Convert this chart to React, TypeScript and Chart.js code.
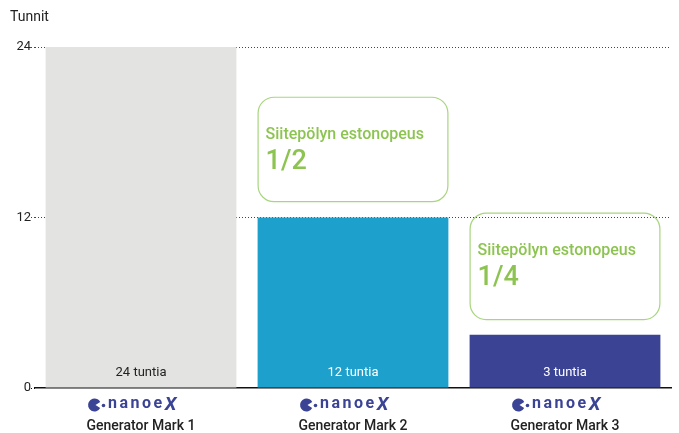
import React, { useEffect, useRef } from "react";
import { Chart, registerables } from "chart.js";

Chart.register(...registerables);

const categories = ["Generator Mark 1", "Generator Mark 2", "Generator Mark 3"];
const hours = [24, 12, 3.75];
const barLabels = ["24 tuntia", "12 tuntia", "3 tuntia"];
const yTicks = [0, 12, 24];
const calloutTitles = ["", "Siitepölyn estonopeus", "Siitepölyn estonopeus"];
const calloutRates = ["", "1/2", "1/4"];
const calloutTop = [0, 20.5, 12.35];
const calloutBottom = [0, 13.15, 4.85];
const yTitle = "Tunnit";
const logoText = "nanoe";

const barColors = ["#e3e4e1", "#1ea0cc", "#3b4395"];
const labelColors = ["#222222", "#ffffff", "#ffffff"];
const green = "#8dc451";
const navy = "#3b4395";
const FONT = "Roboto, 'DejaVu Sans', sans-serif";

const overlayPlugin = {
  id: "overlay",
  afterDatasetsDraw(chart: any) {
    const ctx = chart.ctx;
    const meta = chart.getDatasetMeta(0);
    const y = chart.scales.y;
    const area = chart.chartArea;
    ctx.save();
    // axis title
    ctx.fillStyle = "#222";
    ctx.font = `14px ${FONT}`;
    ctx.textAlign = "left";
    ctx.textBaseline = "middle";
    ctx.fillText(yTitle, 10, 17);

    meta.data.forEach((bar: any, i: number) => {
      const half = bar.width / 2;
      const left = bar.x - half;
      // bar label
      ctx.fillStyle = labelColors[i];
      ctx.font = `13px ${FONT}`;
      ctx.textAlign = "center";
      ctx.textBaseline = "middle";
      ctx.fillText(barLabels[i], bar.x, area.bottom - 15);

      // callout
      if (calloutTitles[i]) {
        const top = y.getPixelForValue(calloutTop[i]);
        const bottom = y.getPixelForValue(calloutBottom[i]);
        ctx.beginPath();
        ctx.strokeStyle = "#a9d57f";
        ctx.lineWidth = 1.2;
        ctx.roundRect(left + 0.5, top + 0.5, bar.width - 1, bottom - top, 16);
        ctx.stroke();
        ctx.fillStyle = green;
        ctx.textAlign = "left";
        ctx.font = `500 16px ${FONT}`;
        ctx.fillText(calloutTitles[i], left + 8, top + 38);
        ctx.font = `500 27px ${FONT}`;
        ctx.fillText(calloutRates[i], left + 8, top + 66);
      }

      // logo
      const ly = area.bottom + 17;
      const lx = bar.x - 53;
      ctx.fillStyle = navy;
      ctx.beginPath();
      ctx.arc(lx + 6.5, ly, 6.5, 0.5, Math.PI * 2 - 0.5);
      ctx.lineTo(lx + 7.5, ly);
      ctx.closePath();
      ctx.fill();
      ctx.beginPath();
      ctx.arc(lx + 15.5, ly + 0.5, 1.8, 0, Math.PI * 2);
      ctx.fill();
      ctx.font = `bold 16px ${FONT}`;
      (ctx as any).letterSpacing = "2.5px";
      ctx.textAlign = "left";
      ctx.textBaseline = "middle";
      ctx.fillText(logoText, lx + 20, ly - 1);
      const nw = ctx.measureText(logoText).width;
      (ctx as any).letterSpacing = "0px";
      ctx.font = `italic bold 19px ${FONT}`;
      ctx.fillText("X", lx + 20 + nw, ly);

      // category label
      ctx.fillStyle = "#222";
      ctx.font = `500 14px ${FONT}`;
      ctx.textAlign = "center";
      ctx.fillText(categories[i], bar.x, area.bottom + 38);
    });
    ctx.restore();
  },
};

export default function App() {
  const ref = useRef<HTMLCanvasElement>(null);
  useEffect(() => {
    if (!ref.current) return;
    const chart = new Chart(ref.current, {
      type: "bar",
      data: {
        labels: categories,
        datasets: [
          {
            data: hours,
            backgroundColor: barColors,
            borderWidth: 0,
            categoryPercentage: 0.9,
            barPercentage: 1,
          },
        ],
      },
      options: {
        responsive: false,
        animation: false,
        layout: { padding: { top: 47, right: 8, bottom: 45, left: 0 } },
        plugins: { legend: { display: false }, tooltip: { enabled: false } },
        scales: {
          x: {
            grid: { display: false, drawTicks: false },
            ticks: { display: false },
            border: { display: true, color: "#111", width: 1.5 },
          },
          y: {
            min: 0,
            max: 24,
            afterFit: (s: any) => {
              s.width = 35;
            },
            afterBuildTicks: (s: any) => {
              s.ticks = yTicks.map((v) => ({ value: v }));
            },
            ticks: {
              color: "#222",
              font: { family: FONT, size: 13 },
              padding: 0,
            },
            grid: {
              color: (c: any) => (c.tick && c.tick.value === 0 ? "rgba(0,0,0,0)" : "#444"),
              tickColor: (c: any) => (c.tick && c.tick.value === 0 ? "#111" : "#444"),
              tickLength: 4,
              tickBorderDash: [1, 2],
              lineWidth: 1,
            },
            border: { display: false, dash: [1, 2] },
          },
        },
      },
      plugins: [overlayPlugin],
    });
    return () => chart.destroy();
  }, []);
  return (
    <div style={{ position: "fixed", left: 0, top: 0, background: "#fff" }}>
      <canvas ref={ref} width={679} height={433} style={{ display: "block" }} />
    </div>
  );
}
